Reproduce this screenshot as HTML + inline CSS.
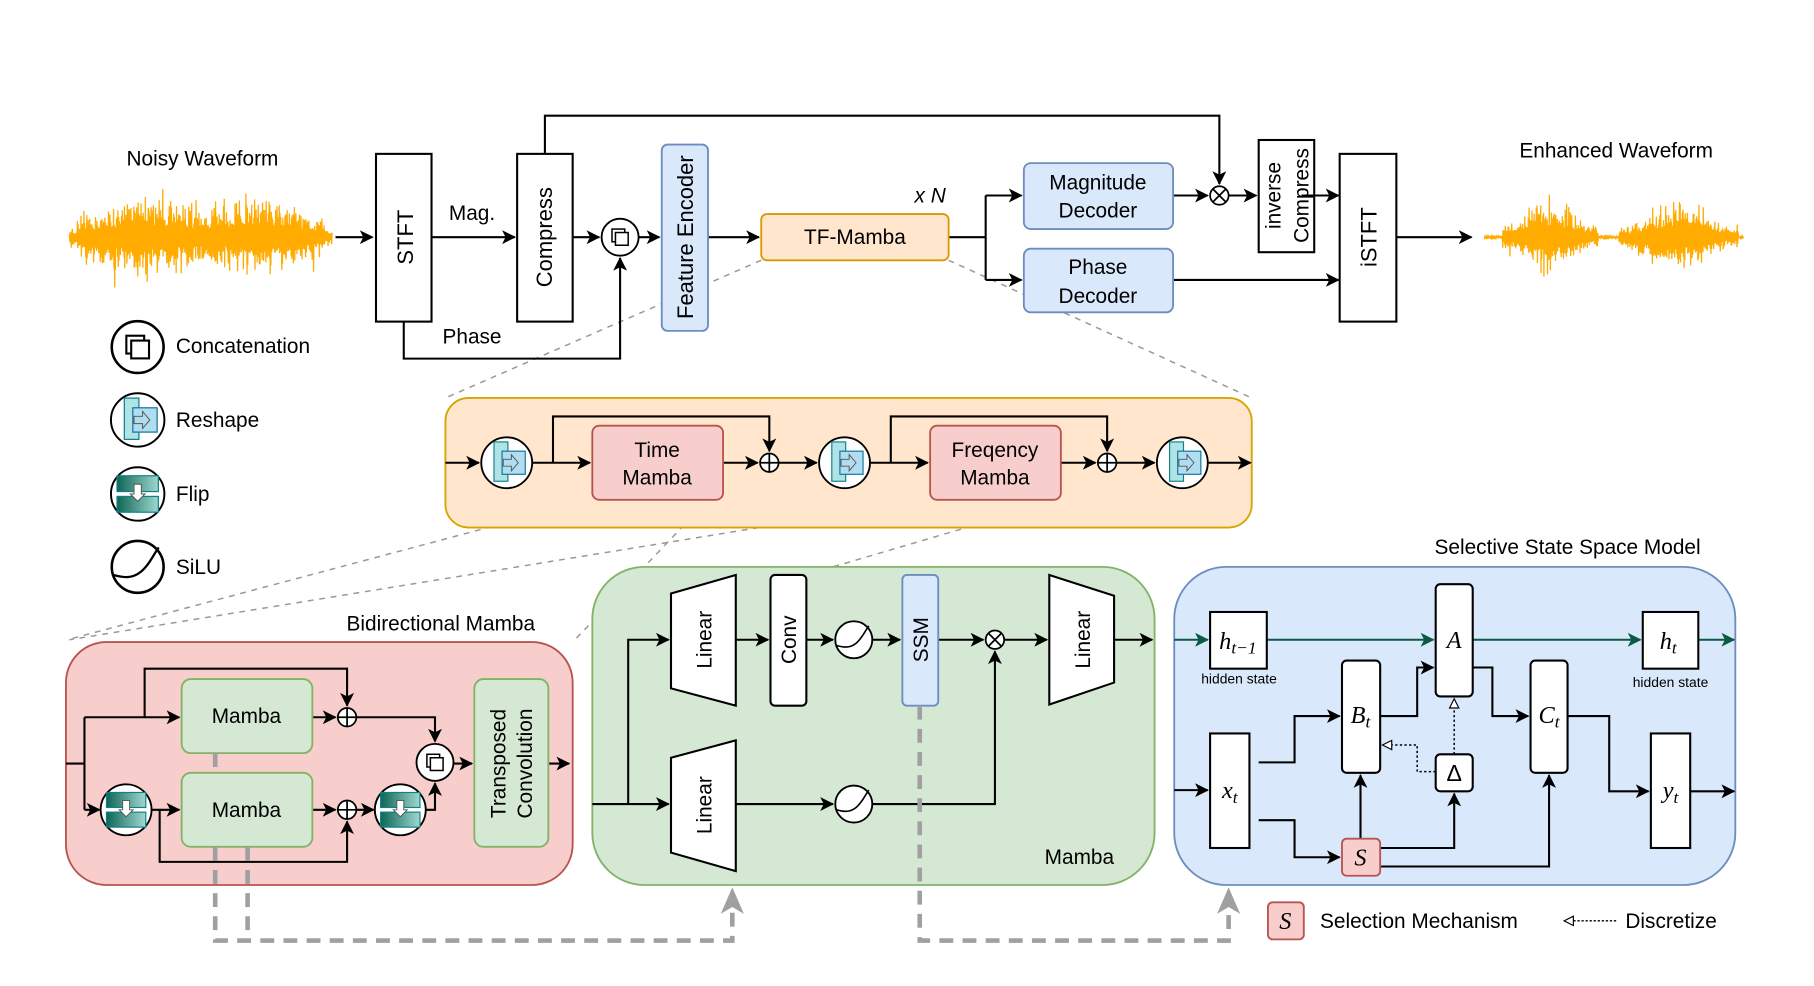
<!DOCTYPE html>
<html><head><meta charset="utf-8">
<style>
html,body{margin:0;padding:0;background:#fff;}
svg{display:block;}
text{font-family:"Liberation Sans",sans-serif;fill:#000;}
.m{font-family:"Liberation Serif",serif;font-style:italic;}
</style></head><body>
<svg id="s" width="1814" height="986" viewBox="0 0 1568 852.3" xmlns="http://www.w3.org/2000/svg">
<defs>
<marker id="a" markerUnits="userSpaceOnUse" markerWidth="14" markerHeight="14" refX="11" refY="6" orient="auto"><path d="M0,0 L12,6 L0,12 L3,6 z" fill="#000"/></marker>
<marker id="ag" markerUnits="userSpaceOnUse" markerWidth="14" markerHeight="14" refX="11" refY="6" orient="auto"><path d="M0,0 L12,6 L0,12 L3,6 z" fill="#0b5a43"/></marker>
<marker id="ah" markerUnits="userSpaceOnUse" markerWidth="12" markerHeight="12" refX="9" refY="5" orient="auto"><path d="M1,1 L9,5 L1,9 z" fill="#fff" stroke="#000" stroke-width="1"/></marker>
<linearGradient id="fg" x1="0" y1="0" x2="1" y2="0"><stop offset="0" stop-color="#0e6655"/><stop offset="1" stop-color="#9fd8d0"/></linearGradient>
<g id="resh"><circle r="22" fill="#fff" stroke="#000" stroke-width="1.6"/><rect x="-11" y="-18" width="12" height="34" fill="#b0e3e6" stroke="#0e8088"/><rect x="-4" y="-10" width="20" height="20" fill="#b1ddf0" stroke="#10739e"/><path d="M-3,-3 h7 v-4 l6,7 l-6,7 v-4 h-7 z" fill="none" stroke="#555" stroke-width="0.8"/></g>
<g id="flip"><circle r="22" fill="#fff" stroke="#000" stroke-width="1.6"/><rect x="-17" y="-15" width="34" height="13" fill="url(#fg)" stroke="#0e8088"/><rect x="-17" y="2" width="34" height="13" fill="url(#fg)" stroke="#0e8088"/><path d="M-3,-8 v8 h-3 l6,6 l6,-6 h-3 v-8 z" fill="#fff" stroke="#555" stroke-width="0.8"/></g>
<g id="silu"><circle r="16" fill="#fff" stroke="#000" stroke-width="1.6"/><path d="M-15,5 C-8,7 -3,7 2,3 C7,-1 10,-8 13,-12" fill="none" stroke="#000" stroke-width="1.4"/></g>
<g id="cat"><circle r="16" fill="#fff" stroke="#000" stroke-width="1.6"/><rect x="-7" y="-7" width="11" height="11" fill="#fff" stroke="#000" stroke-width="1.3"/><rect x="-4" y="-4" width="11" height="11" fill="#fff" stroke="#000" stroke-width="1.3"/></g>
<g id="plus"><circle r="8" fill="#fff" stroke="#000" stroke-width="1.5"/><path d="M-8,0 H8 M0,-8 V8" stroke="#000" stroke-width="1.5"/></g>
<g id="times"><circle r="8" fill="#fff" stroke="#000" stroke-width="1.5"/><path d="M-5.6,-5.6 L5.6,5.6 M-5.6,5.6 L5.6,-5.6" stroke="#000" stroke-width="1.5"/></g>
</defs>

<g stroke="#999" stroke-width="1.3" stroke-dasharray="5,5" fill="none">
<path d="M658,225 L385,344"/><path d="M820,225 L1082,344"/>
<path d="M512,432 L58,553"/><path d="M804,432 L60,553"/>
<path d="M612,432 L497,553"/><path d="M917,432 L720,490"/>
</g>

<g id="w1"></g><g id="w2"></g>
<text x="175" y="143" font-size="18" text-anchor="middle">Noisy Waveform</text>
<text x="1397" y="136" font-size="18" text-anchor="middle">Enhanced Waveform</text>

<g stroke="#000" stroke-width="1.8" fill="none">
<path d="M290,205 H322" marker-end="url(#a)"/>
<path d="M373,205 H445" marker-end="url(#a)"/>
<path d="M471,133 V100 H1054 V159" marker-end="url(#a)"/>
<path d="M495,205 H518" marker-end="url(#a)"/>
<path d="M552,205 H570" marker-end="url(#a)"/>
<path d="M349,278 V310 H536 V223" marker-end="url(#a)"/>
<path d="M612,205 H656" marker-end="url(#a)"/>
<path d="M820,205 H852 M852,169 V242"/>
<path d="M852,169 H883" marker-end="url(#a)"/>
<path d="M852,242 H883" marker-end="url(#a)"/>
<path d="M1014,169 H1044" marker-end="url(#a)"/>
<path d="M1062,169 H1086" marker-end="url(#a)"/>
<path d="M1014,242 H1157" marker-end="url(#a)"/>
<path d="M1207,205 H1272" marker-end="url(#a)"/>
</g>
<rect x="325" y="133" width="48" height="145" fill="#fff" stroke="#000" stroke-width="1.8"/>
<text transform="translate(357,205) rotate(-90)" font-size="19" text-anchor="middle">STFT</text>
<text x="408" y="190" font-size="18" text-anchor="middle">Mag.</text>
<text x="408" y="297" font-size="18" text-anchor="middle">Phase</text>
<rect x="447" y="133" width="48" height="145" fill="#fff" stroke="#000" stroke-width="1.8"/>
<text transform="translate(477,205) rotate(-90)" font-size="19" text-anchor="middle">Compress</text>
<use href="#cat" x="536" y="205"/>
<rect x="572" y="125" width="40" height="161" rx="5" fill="#dae8fc" stroke="#6c8ebf" stroke-width="1.6"/>
<text transform="translate(599,205) rotate(-90)" font-size="19" text-anchor="middle">Feature Encoder</text>
<rect x="658" y="185" width="162" height="40" rx="5" fill="#ffe6cc" stroke="#d79b00" stroke-width="1.6"/>
<text x="739" y="211" font-size="18" text-anchor="middle">TF-Mamba</text>
<text x="804" y="175" font-size="18" text-anchor="middle" font-style="italic">x N</text>
<rect x="885" y="141" width="129" height="57" rx="6" fill="#dae8fc" stroke="#6c8ebf" stroke-width="1.6"/>
<text x="949" y="164" font-size="18" text-anchor="middle">Magnitude</text>
<text x="949" y="188" font-size="18" text-anchor="middle">Decoder</text>
<rect x="885" y="215" width="129" height="55" rx="6" fill="#dae8fc" stroke="#6c8ebf" stroke-width="1.6"/>
<text x="949" y="237" font-size="18" text-anchor="middle">Phase</text>
<text x="949" y="262" font-size="18" text-anchor="middle">Decoder</text>
<use href="#times" x="1054" y="169"/>
<rect x="1088" y="121" width="48" height="97" fill="#fff" stroke="#000" stroke-width="1.8"/>
<text transform="translate(1107,169) rotate(-90)" font-size="18" text-anchor="middle">inverse</text>
<text transform="translate(1131,169) rotate(-90)" font-size="18" text-anchor="middle">Compress</text>
<path d="M1125,169 H1157" stroke="#000" stroke-width="1.8" marker-end="url(#a)"/>
<rect x="1158" y="133" width="49" height="145" fill="#fff" stroke="#000" stroke-width="1.8"/>
<text transform="translate(1190,205) rotate(-90)" font-size="19" text-anchor="middle">iSTFT</text>

<g transform="translate(119,300) scale(1.4)"><use href="#cat"/></g>
<text x="152" y="305" font-size="18">Concatenation</text>
<g transform="translate(119,363) scale(1.05)"><use href="#resh"/></g>
<text x="152" y="369" font-size="18">Reshape</text>
<g transform="translate(119,427) scale(1.05)"><use href="#flip"/></g>
<text x="152" y="433" font-size="18">Flip</text>
<g transform="translate(119,490) scale(1.4)"><use href="#silu"/></g>
<text x="152" y="496" font-size="18">SiLU</text>

<rect x="385" y="344" width="697" height="112" rx="20" fill="#ffe6cc" stroke="#d6a600" stroke-width="1.6"/>
<g stroke="#000" stroke-width="1.8" fill="none">
<path d="M385,400 H414" marker-end="url(#a)"/>
<path d="M460,400 H510" marker-end="url(#a)"/>
<path d="M478,400 V360 H665 V390" marker-end="url(#a)"/>
<path d="M625,400 H655" marker-end="url(#a)"/>
<path d="M673,400 H706" marker-end="url(#a)"/>
<path d="M752,400 H802" marker-end="url(#a)"/>
<path d="M770,400 V360 H957 V390" marker-end="url(#a)"/>
<path d="M917,400 H947" marker-end="url(#a)"/>
<path d="M965,400 H998" marker-end="url(#a)"/>
<path d="M1044,400 H1081" marker-end="url(#a)"/>
</g>
<use href="#resh" x="438" y="400"/>
<use href="#resh" x="730" y="400"/>
<use href="#resh" x="1022" y="400"/>
<use href="#plus" x="665" y="400"/><use href="#plus" x="957" y="400"/>
<rect x="512" y="368" width="113" height="64" rx="6" fill="#f8cecc" stroke="#b85450" stroke-width="1.6"/>
<text x="568" y="395" font-size="18" text-anchor="middle">Time</text>
<text x="568" y="419" font-size="18" text-anchor="middle">Mamba</text>
<rect x="804" y="368" width="113" height="64" rx="6" fill="#f8cecc" stroke="#b85450" stroke-width="1.6"/>
<text x="860" y="395" font-size="18" text-anchor="middle">Freqency</text>
<text x="860" y="419" font-size="18" text-anchor="middle">Mamba</text>

<text x="381" y="545" font-size="18" text-anchor="middle">Bidirectional Mamba</text>
<rect x="57" y="555" width="438" height="210" rx="35" fill="#f8cecc" stroke="#b85450" stroke-width="1.6"/>
<g stroke="#000" stroke-width="1.8" fill="none">
<path d="M57,660 H73 M73,620 V700"/>
<path d="M73,620 H155" marker-end="url(#a)"/>
<path d="M125,620 V578 H300 V610" marker-end="url(#a)"/>
<path d="M270,620 H290" marker-end="url(#a)"/>
<path d="M308,620 H376 V641" marker-end="url(#a)"/>
<path d="M73,700 H86" marker-end="url(#a)"/>
<path d="M131,700 H155" marker-end="url(#a)"/>
<path d="M270,700 H290" marker-end="url(#a)"/>
<path d="M138,700 V745 H300 V710" marker-end="url(#a)"/>
<path d="M308,700 H323" marker-end="url(#a)"/>
<path d="M368,700 H376 V677" marker-end="url(#a)"/>
<path d="M392,660 H408" marker-end="url(#a)"/>
<path d="M474,660 H492" marker-end="url(#a)"/>
</g>
<rect x="157" y="587" width="113" height="64" rx="8" fill="#d5e8d4" stroke="#82b366" stroke-width="1.6"/>
<text x="213" y="625" font-size="18" text-anchor="middle">Mamba</text>
<rect x="157" y="668" width="113" height="64" rx="8" fill="#d5e8d4" stroke="#82b366" stroke-width="1.6"/>
<text x="213" y="706" font-size="18" text-anchor="middle">Mamba</text>
<use href="#plus" x="300" y="620"/><use href="#plus" x="300" y="700"/>
<use href="#flip" x="109" y="700"/><use href="#flip" x="346" y="700"/>
<use href="#cat" x="376" y="659"/>
<rect x="410" y="587" width="64" height="145" rx="8" fill="#d5e8d4" stroke="#82b366" stroke-width="1.6"/>
<text transform="translate(437,660) rotate(-90)" font-size="18" text-anchor="middle">Transposed</text>
<text transform="translate(460,660) rotate(-90)" font-size="18" text-anchor="middle">Convolution</text>

<rect x="512" y="490" width="486" height="275" rx="45" fill="#d5e8d4" stroke="#82b366" stroke-width="1.6"/>
<g stroke="#000" stroke-width="1.8" fill="none">
<path d="M512,695 H578" marker-end="url(#a)"/>
<path d="M543,695 V553 H578" marker-end="url(#a)"/>
<path d="M636,553 H664" marker-end="url(#a)"/>
<path d="M697,553 H720" marker-end="url(#a)"/>
<path d="M754,553 H778" marker-end="url(#a)"/>
<path d="M811,553 H850" marker-end="url(#a)"/>
<path d="M868,553 H905" marker-end="url(#a)"/>
<path d="M963,553 H996" marker-end="url(#a)"/>
<path d="M636,695 H720" marker-end="url(#a)"/>
<path d="M754,695 H860 V563" marker-end="url(#a)"/>
</g>
<path d="M580,513 L636,497 L636,610 L580,595 Z" fill="#fff" stroke="#000" stroke-width="1.8"/>
<text transform="translate(615,553) rotate(-90)" font-size="18" text-anchor="middle">Linear</text>
<path d="M580,655 L636,640 L636,753 L580,737 Z" fill="#fff" stroke="#000" stroke-width="1.8"/>
<text transform="translate(615,696) rotate(-90)" font-size="18" text-anchor="middle">Linear</text>
<rect x="666" y="497" width="31" height="113" rx="4" fill="#fff" stroke="#000" stroke-width="1.8"/>
<text transform="translate(688,553) rotate(-90)" font-size="18" text-anchor="middle">Conv</text>
<use href="#silu" x="738" y="553"/><use href="#silu" x="738" y="695"/>
<rect x="780" y="497" width="31" height="113" rx="4" fill="#dae8fc" stroke="#6c8ebf" stroke-width="1.6"/>
<text transform="translate(802,553) rotate(-90)" font-size="18" text-anchor="middle">SSM</text>
<use href="#times" x="860" y="553"/>
<path d="M907,497 L963,515 L963,590 L907,609 Z" fill="#fff" stroke="#000" stroke-width="1.8"/>
<text transform="translate(942,553) rotate(-90)" font-size="18" text-anchor="middle">Linear</text>
<text x="933" y="747" font-size="18" text-anchor="middle">Mamba</text>

<text x="1355" y="479" font-size="18" text-anchor="middle">Selective State Space Model</text>
<rect x="1015" y="490" width="485" height="275" rx="45" fill="#dae8fc" stroke="#6c8ebf" stroke-width="1.6"/>
<g stroke="#0b5a43" stroke-width="1.8" fill="none">
<path d="M1015,553 H1044" marker-end="url(#ag)"/>
<path d="M1095,553 H1239" marker-end="url(#ag)"/>
<path d="M1273,553 H1418" marker-end="url(#ag)"/>
<path d="M1468,553 H1499" marker-end="url(#ag)"/>
</g>
<g stroke="#000" stroke-width="1.8" fill="none">
<path d="M1015,683 H1044" marker-end="url(#a)"/>
<path d="M1088,659 H1119 V619 H1158" marker-end="url(#a)"/>
<path d="M1088,709 H1119 V741 H1158" marker-end="url(#a)"/>
<path d="M1193,619 H1225 V577 H1239" marker-end="url(#a)"/>
<path d="M1273,577 H1290 V619 H1321" marker-end="url(#a)"/>
<path d="M1355,619 H1391 V684 H1425" marker-end="url(#a)"/>
<path d="M1461,684 H1499" marker-end="url(#a)"/>
<path d="M1176,725 V670" marker-end="url(#a)"/>
<path d="M1193,733 H1257 V686" marker-end="url(#a)"/>
<path d="M1193,749 H1339 V670" marker-end="url(#a)"/>
</g>
<g stroke="#000" stroke-width="1.3" fill="none" stroke-dasharray="2,2">
<path d="M1257,652 V604" marker-end="url(#ah)"/>
<path d="M1241,667 H1225 V644 H1195" marker-end="url(#ah)"/>
</g>
<g fill="#fff" stroke="#000" stroke-width="1.8">
<rect x="1046" y="529" width="49" height="49"/>
<rect x="1420" y="529" width="48" height="49"/>
<rect x="1241" y="505" width="32" height="97" rx="4"/>
<rect x="1160" y="571" width="33" height="97" rx="4"/>
<rect x="1323" y="571" width="32" height="97" rx="4"/>
<rect x="1046" y="634" width="34" height="99"/>
<rect x="1241" y="652" width="32" height="32" rx="4"/>
<rect x="1427" y="634" width="34" height="99"/>
</g>
<rect x="1160" y="725" width="33" height="32" rx="4" fill="#f8cecc" stroke="#b85450" stroke-width="1.6"/>
<text x="1070" y="561" font-size="21" text-anchor="middle" class="m">h<tspan font-size="15" dy="4">t−1</tspan></text>
<text x="1071" y="591" font-size="12" text-anchor="middle">hidden state</text>
<text x="1442" y="561" font-size="21" text-anchor="middle" class="m">h<tspan font-size="15" dy="4">t</tspan></text>
<text x="1444" y="594" font-size="12" text-anchor="middle">hidden state</text>
<text x="1257" y="560" font-size="21" text-anchor="middle" class="m">A</text>
<text x="1176" y="625" font-size="21" text-anchor="middle" class="m">B<tspan font-size="15" dy="4">t</tspan></text>
<text x="1339" y="625" font-size="21" text-anchor="middle" class="m">C<tspan font-size="15" dy="4">t</tspan></text>
<text x="1063" y="690" font-size="21" text-anchor="middle" class="m">x<tspan font-size="15" dy="4">t</tspan></text>
<text x="1444" y="690" font-size="21" text-anchor="middle" class="m">y<tspan font-size="15" dy="4">t</tspan></text>
<text x="1257" y="675" font-size="20" text-anchor="middle" font-family="Liberation Serif">Δ</text>
<text x="1176" y="748" font-size="21" text-anchor="middle" class="m">S</text>

<rect x="1096" y="780" width="31" height="32" rx="4" fill="#f8cecc" stroke="#b85450" stroke-width="1.6"/>
<text x="1111" y="803" font-size="21" text-anchor="middle" class="m">S</text>
<text x="1141" y="802" font-size="18">Selection Mechanism</text>
<path d="M1397,796 H1352" stroke="#000" stroke-width="1.2" stroke-dasharray="2,1.5" marker-end="url(#ah)"/>
<text x="1405" y="802" font-size="18">Discretize</text>

<g stroke="#a0a0a0" stroke-width="4" fill="none" stroke-dasharray="12,8">
<path d="M186,651 V668"/>
<path d="M186,732 V813 H633 V780"/>
<path d="M214,732 V813"/>
<path d="M795,610 V813 H1062 V780"/>
</g>
<path d="M633,767 L643,790 L633,784 L623,790 Z" fill="#a0a0a0"/>
<path d="M1062,767 L1072,790 L1062,784 L1052,790 Z" fill="#a0a0a0"/>
</svg>
<script>
(function(){
var seed=7;function r(){seed=(seed*16807)%2147483647;return seed/2147483647;}
function wave(id,x0,x1,env){
  var d="M"+x0+",205";var n=Math.round((x1-x0)*3.2);
  for(var i=0;i<=n;i++){var x=x0+(x1-x0)*i/n;var e=env((x-x0)/(x1-x0));var a=e*(0.25+0.75*r()*r())*(r()<0.08?1.6:1.1);d+=" L"+x.toFixed(2)+","+(205+(i%2?a:-a)).toFixed(2);}
  var p=document.createElementNS("http://www.w3.org/2000/svg","path");
  p.setAttribute("d",d);p.setAttribute("stroke","#ffab00");p.setAttribute("stroke-width","1.1");p.setAttribute("fill","none");
  document.getElementById(id).appendChild(p);
}
wave("w1",60,287,function(t){var v=16+20*Math.exp(-Math.pow((t-0.3)/0.2,2))+18*Math.exp(-Math.pow((t-0.72)/0.17,2));return t<0.03||t>0.97?v*0.5:v;});
wave("w2",1283,1507,function(t){
  var v=1.2;
  if(t>0.07&&t<0.44){v=32*Math.sin(Math.PI*(t-0.07)/0.37);v=Math.max(v,12);}
  else if(t>0.52&&t<0.98){v=32*Math.sin(Math.PI*(t-0.52)/0.46);v=Math.max(v,10);}
  return Math.min(38,v);});
})();
</script>
</body></html>
